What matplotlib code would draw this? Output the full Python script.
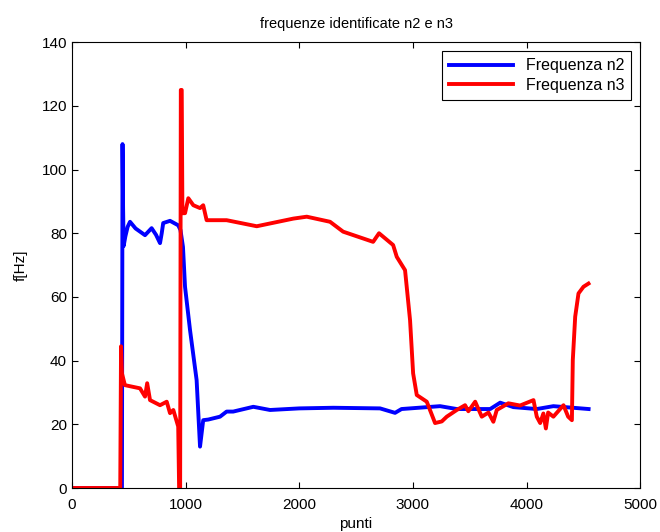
"""Frequenze identificate n2 e n3 (ricostruzione del grafico)."""
import matplotlib
matplotlib.use("Agg")

import matplotlib.pyplot as plt

plt.rcParams['font.family'] = ['Liberation Sans', 'DejaVu Sans']

# frequenza n2 (blu): punti
n2_x = [0, 440, 445, 450, 455, 470, 490, 511, 560, 643, 701, 740, 775, 790,
        803, 863, 935, 955, 977, 995, 1039, 1097, 1127, 1155, 1200, 1303,
        1361, 1419, 1596, 1743, 2000, 2300, 2711, 2843, 2900, 3239, 3386,
        3680, 3768, 3884, 4090, 4236, 4546]
n2_y = [0, 0, 108, 88, 76, 79, 82, 83.6, 81.5, 79.4, 81.6, 79.5, 76.9, 80,
        83.2, 83.9, 82.5, 81, 75.7, 63.2, 49.6, 33.9, 13, 21.3, 21.5, 22.4,
        24, 24, 25.5, 24.5, 25, 25.2, 25, 23.6, 24.8, 25.7, 24.8,
        24.8, 26.8, 25.4, 24.8, 25.7, 24.8]

# frequenza n3 (rosso): punti
n3_x = [0, 425, 432, 440, 466, 599, 643, 662, 687, 775, 834, 863, 892, 935,
        943, 952, 958, 966, 972, 995, 1024, 1068, 1127, 1155, 1185, 1361,
        1626, 1948, 2066, 2271, 2386, 2650, 2702, 2826, 2858, 2931, 2975,
        3002, 3034, 3122, 3195, 3254, 3298, 3386, 3459, 3488, 3548, 3606,
        3665, 3708, 3738, 3840, 3943, 4061, 4090, 4120, 4148, 4170, 4190,
        4236, 4325, 4366, 4399, 4407, 4428, 4457, 4501, 4545]
n3_y = [0, 0, 44.5, 36, 32.3, 31.3, 28.7, 32.9, 27.6, 26, 27.1, 23.5, 24.5,
        19.3, 0, 0, 125, 125, 86.3, 86.3, 91, 88.8, 87.9, 88.8, 84.1, 84.1,
        82.2, 84.6, 85.2, 83.6, 80.5, 77.3, 80, 76.3, 72.6, 68.4, 52.7,
        36, 29.2, 27.1, 20.4, 20.9, 22.4, 24.5, 26, 24.1, 27.1, 22.4,
        23.7, 20.8, 24.5, 26.6, 25.9, 27.6, 22.4, 20.4, 23.4, 18.7, 23.7,
        22.4, 26, 22.4, 21.3, 40.2, 53.8, 61.1, 63.2, 64.2]

x_ticks = [0, 1000, 2000, 3000, 4000, 5000]
y_ticks = [0, 20, 40, 60, 80, 100, 120, 140]


def run():
  """Disegna il grafico e lo salva in out.png."""
  fig = plt.figure(figsize=(6.6, 5.32), dpi=100)
  axs = fig.add_axes([0.109, 0.0827, 0.861, 0.838])

  axs.plot(n2_x, n2_y, color='#0000ff', linewidth=2.8, label='Frequenza n2')
  axs.plot(n3_x, n3_y, color='#ff0000', linewidth=2.8, label='Frequenza n3')

  axs.set_xlim(0, 5000)
  axs.set_ylim(0, 140)
  axs.set_xticks(x_ticks)
  axs.set_yticks(y_ticks)
  axs.tick_params(direction='in', top=True, right=True, labelsize=11,
                  length=4)
  axs.tick_params(axis='x', pad=7)
  for spine in axs.spines.values():
    spine.set_linewidth(0.8)

  axs.set_title('frequenze identificate n2 e n3', fontsize=10.5, pad=10)
  axs.set_xlabel('punti', fontsize=11, labelpad=4)
  axs.set_ylabel('f[Hz]', fontsize=11, labelpad=10)

  leg = axs.legend(loc='upper right', fontsize=11.5, fancybox=False,
                   framealpha=1, edgecolor='black', handlelength=4.0,
                   borderaxespad=0.55, borderpad=0.45, labelspacing=0.3)
  leg.get_frame().set_linewidth(0.8)

  fig.savefig('out.png', dpi=100)
  plt.close(fig)


if __name__ == "__main__":
  run()
